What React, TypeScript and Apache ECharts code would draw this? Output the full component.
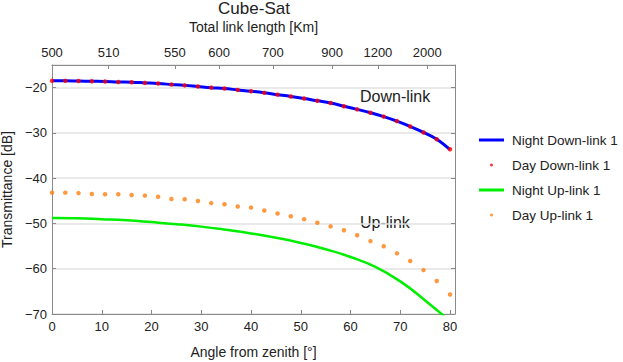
import React, { useEffect, useRef } from "react";
import * as echarts from "echarts";

// Angles (deg from zenith) at which the "Day" points were sampled
const dotAngles = [
  0, 2.67, 5.33, 8, 10.67, 13.33, 16, 18.67, 21.33, 24, 26.67, 29.33, 32, 34.67, 37.33, 40,
  42.67, 45.33, 48, 50.67, 53.33, 56, 58.67, 61.33, 64, 66.67, 69.33, 72, 74.67, 77.33, 80,
];
// Day Down-link 1 (dB)
const dayDown = [
  -18.5, -18.5, -18.55, -18.6, -18.65, -18.75, -18.8, -18.95, -19.1, -19.3, -19.5, -19.75, -20.0,
  -20.2, -20.5, -20.8, -21.15, -21.55, -21.95, -22.4, -22.9, -23.4, -24.1, -24.8, -25.55, -26.4,
  -27.4, -28.6, -29.9, -31.4, -33.6,
];
// Night Down-link 1 (dB), same sampling
const nightDown = [
  -18.5, -18.5, -18.55, -18.6, -18.65, -18.75, -18.8, -18.95, -19.1, -19.3, -19.5, -19.75, -20.0,
  -20.2, -20.5, -20.8, -21.15, -21.55, -21.95, -22.4, -22.9, -23.4, -24.1, -24.8, -25.55, -26.4,
  -27.4, -28.6, -29.9, -31.4, -33.7,
];
// Day Up-link 1 (dB)
const dayUp = [
  -43.2, -43.2, -43.3, -43.5, -43.55, -43.55, -43.7, -43.85, -44.1, -44.6, -44.65, -45.05, -45.5,
  -45.75, -46.25, -46.5, -47.15, -47.8, -48.4, -49.05, -49.85, -50.65, -51.5, -52.6, -53.9, -55.05,
  -56.6, -58.3, -60.3, -62.7, -65.7,
];
// Night Up-link 1 (dB)
const nightUpAngles = [0, 5, 10, 15, 20, 25, 30, 35, 40, 45, 50, 55, 60, 65, 70, 75, 80];
const nightUp = [
  -48.8, -48.85, -49.05, -49.3, -49.7, -50.15, -50.7, -51.4, -52.2, -53.15, -54.3, -55.7, -57.4,
  -59.6, -62.8, -67.0, -71.6,
];

// Top axis: total link length ticks (positions in angle, labels in km)
const topTickAngles = [0, 11.4, 24.7, 33.6, 44.4, 56.3, 65.5, 75.4];
const topTickLabels = ["500", "510", "550", "600", "700", "900", "1200", "2000"];

const seriesNames = ["Night Down-link 1", "Day Down-link 1", "Night Up-link 1", "Day Up-link 1"];
const FONT = "Liberation Sans, Arial, Helvetica, sans-serif";

const pairs = (xs: number[], ys: number[]) => xs.map((x, i) => [x, ys[i]]);
const minus = (v: number) => String(v).replace("-", "\u2212");

export default function App() {
  const ref = useRef<HTMLDivElement>(null);
  useEffect(() => {
    if (!ref.current) return;
    const chart = echarts.init(ref.current, undefined, { renderer: "svg" });
    const axisColor = "#8a8a8a";
    chart.setOption({
      animation: false,
      backgroundColor: "#ffffff",
      textStyle: { fontFamily: FONT },
      title: {
        text: "Cube-Sat",
        left: 254,
        top: 0,
        padding: 0,
        textAlign: "center",
        textStyle: { fontFamily: FONT, fontSize: 17, fontWeight: "normal", color: "#222" },
      },
      legend: {
        orient: "vertical",
        left: 479,
        top: 132,
        padding: 0,
        itemWidth: 25,
        itemHeight: 3,
        itemGap: 9,
        data: [
          { name: seriesNames[0], icon: "rect" },
          { name: seriesNames[1], icon: "circle" },
          { name: seriesNames[2], icon: "rect" },
          { name: seriesNames[3], icon: "circle" },
        ],
        textStyle: {
          fontFamily: FONT,
          fontSize: 13.5,
          color: "#222",
          lineHeight: 16,
          padding: [0, 0, 0, 3],
        },
      },
      grid: { left: 52, right: 168, top: 65, bottom: 48, outerBoundsMode: "none" },
      xAxis: [
        {
          type: "value",
          position: "bottom",
          min: 0,
          max: 81,
          interval: 10,
          name: "Angle from zenith [°]",
          nameLocation: "middle",
          nameGap: 31,
          nameTextStyle: { fontFamily: FONT, fontSize: 14, color: "#222" },
          axisLine: { show: true, onZero: false, lineStyle: { color: axisColor, width: 1 } },
          axisTick: { show: true, inside: true, length: 4, lineStyle: { color: axisColor } },
          axisLabel: {
            fontFamily: FONT,
            fontSize: 13,
            color: "#222",
            margin: 6,
            showMaxLabel: false,
          },
          splitLine: { show: false },
        },
        {
          type: "value",
          position: "top",
          min: 0,
          max: 81,
          name: "Total link length [Km]",
          nameLocation: "middle",
          nameGap: 31,
          nameTextStyle: { fontFamily: FONT, fontSize: 14, color: "#222" },
          axisLine: { show: true, onZero: false, lineStyle: { color: axisColor, width: 1 } },
          axisTick: {
            show: true,
            inside: true,
            length: 4,
            customValues: topTickAngles,
            lineStyle: { color: axisColor },
          },
          axisLabel: {
            fontFamily: FONT,
            fontSize: 13,
            color: "#222",
            margin: 6,
            customValues: topTickAngles,
            formatter: (v: number) => {
              let best = 0;
              topTickAngles.forEach((a, i) => {
                if (Math.abs(a - v) < Math.abs(topTickAngles[best] - v)) best = i;
              });
              return topTickLabels[best];
            },
          },
          splitLine: { show: false },
        },
      ],
      yAxis: [
        {
          type: "value",
          position: "left",
          min: -70,
          max: -15,
          interval: 10,
          name: "Transmittance [dB]",
          nameLocation: "middle",
          nameGap: 37,
          nameTextStyle: { fontFamily: FONT, fontSize: 14, color: "#222" },
          axisLine: { show: true, onZero: false, lineStyle: { color: axisColor, width: 1 } },
          axisTick: { show: true, inside: true, length: 4, lineStyle: { color: axisColor } },
          axisLabel: {
            fontFamily: FONT,
            fontSize: 13,
            color: "#222",
            margin: 5,
            showMaxLabel: false,
            formatter: (v: number) => minus(v),
          },
          splitLine: { show: true, lineStyle: { color: "#e2e2e2", width: 1.5 } },
        },
        {
          type: "value",
          position: "right",
          min: -70,
          max: -15,
          interval: 10,
          axisLine: { show: true, onZero: false, lineStyle: { color: axisColor, width: 1 } },
          axisTick: { show: true, inside: true, length: 4, lineStyle: { color: axisColor } },
          axisLabel: { show: false },
          splitLine: { show: false },
        },
      ],
      graphic: [
        {
          type: "text",
          left: 360,
          top: 88,
          style: { text: "Down-link", fontFamily: FONT, fontSize: 16, fill: "#222" },
        },
        {
          type: "text",
          left: 360,
          top: 214,
          style: { text: "Up-link", fontFamily: FONT, fontSize: 16, fill: "#222" },
        },
      ],
      series: [
        {
          name: seriesNames[0],
          type: "line",
          xAxisIndex: 0,
          yAxisIndex: 0,
          data: pairs(dotAngles, nightDown),
          smooth: 0.4,
          showSymbol: false,
          symbol: "none",
          color: "#0000ff",
          lineStyle: { color: "#0000ff", width: 3 },
          z: 2,
        },
        {
          name: seriesNames[1],
          type: "scatter",
          xAxisIndex: 0,
          yAxisIndex: 0,
          data: pairs(dotAngles, dayDown),
          symbol: "circle",
          symbolSize: 4.5,
          color: "#ff0000",
          itemStyle: { color: "#ff0000" },
          z: 3,
        },
        {
          name: seriesNames[2],
          type: "line",
          xAxisIndex: 0,
          yAxisIndex: 0,
          data: pairs(nightUpAngles, nightUp),
          smooth: 0.5,
          showSymbol: false,
          symbol: "none",
          clip: true,
          color: "#00ee00",
          lineStyle: { color: "#00ee00", width: 2.5 },
          z: 2,
        },
        {
          name: seriesNames[3],
          type: "scatter",
          xAxisIndex: 0,
          yAxisIndex: 0,
          data: pairs(dotAngles, dayUp),
          symbol: "circle",
          symbolSize: 4.5,
          color: "#ff8010",
          itemStyle: { color: "#ff8010" },
          z: 3,
        },
      ],
    });
    return () => chart.dispose();
  }, []);
  return (
    <div
      ref={ref}
      style={{ position: "fixed", left: 0, top: 0, width: 623, height: 362, background: "#fff" }}
    />
  );
}
